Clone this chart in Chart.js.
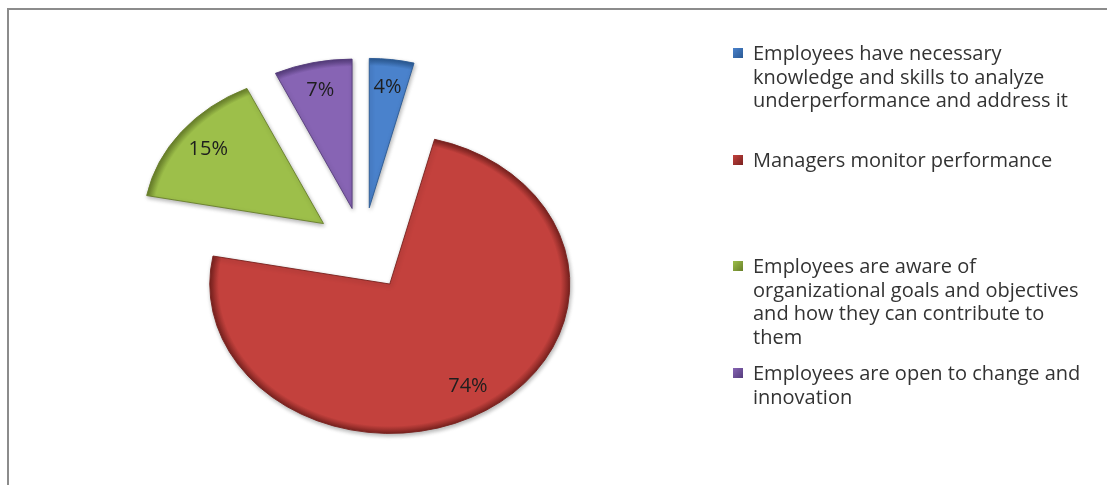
<!DOCTYPE html>
<html>
<head>
<meta charset="utf-8">
<script src="https://cdn.jsdelivr.net/npm/chart.js@4/dist/chart.umd.min.js"></script>
<style>
  html, body { margin: 0; padding: 0; background: #ffffff; }
  #wrap { position: relative; width: 1107px; height: 485px; overflow: hidden; background: #ffffff; }
  #frame { position: absolute; left: 7px; top: 8px; right: -6px; bottom: -6px;
           border-left: 2px solid #8c8c8c; border-top: 2px solid #8c8c8c; }
  #pie { position: absolute; left: 0; top: 0; }
  #legend { position: absolute; left: 0; top: 0; font-family: "Open Sans", sans-serif;
            font-size: 20px; color: #333333; }
  .item { position: absolute; left: 753px; line-height: 23.5px; white-space: nowrap; }
  .swatch { position: absolute; left: -20px; top: 7px; width: 10px; height: 10px; }
</style>
</head>
<body>
<div id="wrap">
  <div id="frame"></div>
  <canvas id="pie" width="1107" height="485"></canvas>
  <div id="legend"></div>
</div>
<script>
// Survey answers, clockwise from 12 o'clock
const categories = [
  ['Employees have necessary', 'knowledge and skills to analyze', 'underperformance and address it'],
  ['Managers monitor performance'],
  ['Employees are aware of', 'organizational goals and objectives', 'and how they can contribute to', 'them'],
  ['Employees are open to change and', 'innovation']
];
const shares = [4, 74, 15, 7];
const shareLabels = ['4%', '74%', '15%', '7%'];
const baseColors = ['#4a82cc', '#c3413d', '#9dbf4a', '#8764b4'];
const edgeColors = ['#2b5a94', '#7a221f', '#687f2a', '#553c7c'];

const TILT = 0.83;      // vertical squash for the tilted look
const EXPLODE = 50;     // distance each slice is pulled away from the centre
const RADIUS = 180;
const LABEL_AT = 0.81;  // label position as a fraction of the radius

const total = shares.reduce((a, b) => a + b, 0);

// bisector angle of slice i (Chart.js angles: 0 = 3 o'clock, clockwise, pie starts at -90deg)
function midAngle(i) {
  let before = 0;
  for (let k = 0; k < i; k++) before += shares[k];
  return -Math.PI / 2 + (before + shares[i] / 2) / total * Math.PI * 2;
}

function shadeFill(context) {
  const i = context.dataIndex;
  const chart = context.chart;
  const area = chart.chartArea;
  if (!area) return baseColors[i];
  const m = midAngle(i);
  const cx = (area.left + area.right) / 2 + Math.cos(m) * EXPLODE;
  const cy = (area.top + area.bottom) / 2 + Math.sin(m) * EXPLODE;
  const g = chart.ctx.createRadialGradient(cx, cy, 0, cx, cy, RADIUS);
  g.addColorStop(0, baseColors[i]);
  g.addColorStop(0.95, baseColors[i]);
  g.addColorStop(1, edgeColors[i]);
  return g;
}

const explodePlugin = {
  id: 'explodeTilt',
  afterDatasetUpdate(chart) {
    const area = chart.chartArea;
    const cx = (area.left + area.right) / 2;
    const cy = (area.top + area.bottom) / 2;
    chart.getDatasetMeta(0).data.forEach(arc => {
      const m = (arc.startAngle + arc.endAngle) / 2;
      arc.x = cx + Math.cos(m) * EXPLODE;
      arc.y = cy + Math.sin(m) * EXPLODE;
    });
  },
  beforeDatasetsDraw(chart) {
    const area = chart.chartArea;
    const cx = (area.left + area.right) / 2;
    const cy = (area.top + area.bottom) / 2;
    const ctx = chart.ctx;
    ctx.save();
    ctx.translate(cx, cy);
    ctx.scale(1, TILT);
    ctx.translate(-cx, -cy);
    ctx.shadowColor = 'rgba(0,0,0,0.3)';
    ctx.shadowBlur = 4;
    ctx.shadowOffsetX = 1;
    ctx.shadowOffsetY = 2;
  },
  afterDatasetsDraw(chart) {
    const ctx = chart.ctx;
    ctx.restore();
    const area = chart.chartArea;
    const cy = (area.top + area.bottom) / 2;
    const arcs = chart.getDatasetMeta(0).data;
    ctx.save();
    ctx.font = '20px "Open Sans", sans-serif';
    ctx.fillStyle = '#1e1e1e';
    ctx.textAlign = 'center';
    ctx.textBaseline = 'middle';
    arcs.forEach((arc, i) => {
      const m = (arc.startAngle + arc.endAngle) / 2;
      const d = arc.outerRadius * LABEL_AT;
      const x = arc.x + Math.cos(m) * d;
      const y = cy + (arc.y - cy + Math.sin(m) * d) * TILT;
      ctx.fillText(shareLabels[i], x, y);
    });
    ctx.restore();
  }
};

new Chart(document.getElementById('pie'), {
  type: 'pie',
  data: {
    labels: categories,
    datasets: [{
      data: shares,
      backgroundColor: shadeFill,
      borderColor: edgeColors,
      borderWidth: 1,
      offset: 0,
      hoverOffset: 0,
      clip: false
    }]
  },
  options: {
    responsive: false,
    animation: false,
    devicePixelRatio: 1,
    radius: RADIUS,
    rotation: 0,
    layout: { padding: { left: 0, right: 381, top: 13, bottom: 0 } },
    plugins: {
      legend: { display: false },
      tooltip: { enabled: false }
    },
    events: []
  },
  plugins: [explodePlugin]
});

// Legend entries, spread down the right-hand side
const legendTops = [53, 160, 266, 373];
const legend = document.getElementById('legend');
categories.forEach((lines, i) => {
  const item = document.createElement('div');
  item.className = 'item';
  item.style.top = (legendTops[i] - 11.75) + 'px';
  const sw = document.createElement('div');
  sw.className = 'swatch';
  sw.style.background = 'linear-gradient(135deg, ' + baseColors[i] + ', ' + edgeColors[i] + ')';
  item.appendChild(sw);
  lines.forEach(t => {
    const ln = document.createElement('div');
    ln.textContent = t;
    item.appendChild(ln);
  });
  legend.appendChild(item);
});
</script>
</body>
</html>
